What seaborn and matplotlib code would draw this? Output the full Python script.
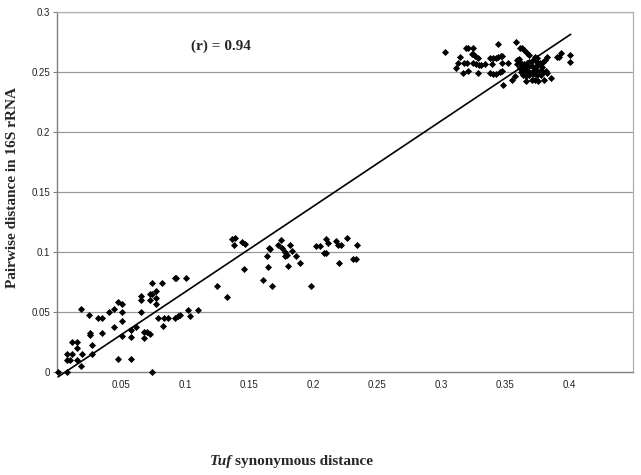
import matplotlib
matplotlib.use("Agg")
import matplotlib.pyplot as plt
import seaborn as sns
import pandas as pd
import numpy as np

# ---- data ----
low_x = [0.0005, 0.0076, 0.008, 0.010, 0.008, 0.0117, 0.0117, 0.0156, 0.0156, 0.0156,
         0.0193, 0.019, 0.0188, 0.025, 0.0255, 0.0255, 0.027, 0.027, 0.0318, 0.035,
         0.0354, 0.041, 0.0445, 0.0445, 0.0474, 0.0505, 0.051, 0.051, 0.0505, 0.0474,
         0.0578, 0.0578, 0.0578, 0.0615, 0.066, 0.066, 0.066, 0.068, 0.068, 0.0706,
         0.073, 0.073, 0.0745, 0.074, 0.073, 0.077, 0.0776, 0.077, 0.0745, 0.0818,
         0.079, 0.083, 0.0838, 0.087, 0.0922, 0.0932, 0.0922, 0.0948, 0.0961, 0.1005,
         0.102, 0.1036, 0.110]
low_y = [0.000, 0.000, 0.010, 0.010, 0.015, 0.015, 0.025, 0.025, 0.020, 0.010,
         0.015, 0.005, 0.0525, 0.0475, 0.0328, 0.031, 0.0225, 0.015, 0.045, 0.045,
         0.0325, 0.0497, 0.0525, 0.0378, 0.058, 0.057, 0.0497, 0.0425, 0.0297, 0.0108,
         0.0347, 0.029, 0.0108, 0.0378, 0.063, 0.060, 0.050, 0.0336, 0.0286, 0.0336,
         0.0314, 0.0647, 0.0647, 0.0745, 0.060, 0.0614, 0.0675, 0.057, 0.000, 0.074,
         0.0447, 0.0383, 0.0447, 0.0447, 0.0786, 0.0786, 0.0447, 0.047, 0.0475, 0.0786,
         0.0514, 0.047, 0.0514]

mid_x = [0.137, 0.139, 0.1385, 0.1448, 0.1466, 0.1458, 0.125, 0.1328, 0.1656, 0.1667,
         0.1643, 0.1646, 0.161, 0.1677, 0.1724, 0.175, 0.1755, 0.1781, 0.1781, 0.1797,
         0.1818, 0.1839, 0.1807, 0.1867, 0.190, 0.1982, 0.2026, 0.2055, 0.2083, 0.2099,
         0.2099, 0.212, 0.218, 0.2195, 0.2216, 0.220, 0.2263, 0.2315, 0.2334, 0.2344]
mid_y = [0.1108, 0.112, 0.1058, 0.1086, 0.107, 0.0858, 0.072, 0.0625, 0.1033, 0.1028,
         0.097, 0.0875, 0.0767, 0.072, 0.1056, 0.110, 0.1033, 0.0997, 0.0964, 0.0972,
         0.106, 0.1011, 0.088, 0.0964, 0.0905, 0.072, 0.1047, 0.105, 0.0994, 0.0994,
         0.1108, 0.1078, 0.109, 0.1056, 0.106, 0.0905, 0.112, 0.0944, 0.0944, 0.1056]

high_x = [0.3031, 0.3193, 0.3213, 0.3253, 0.3148, 0.3240, 0.3253, 0.3266, 0.3292, 0.3130,
          0.3180, 0.3200, 0.3247, 0.3271, 0.3297, 0.3315, 0.3341, 0.3117, 0.3213, 0.3169,
          0.3292, 0.3383, 0.3409, 0.3427, 0.3448, 0.3466, 0.3479, 0.3448, 0.3396, 0.3474,
          0.3383, 0.3409, 0.3427, 0.3461, 0.3474, 0.3526, 0.3904, 0.3924, 0.3940, 0.4008,
          0.4008,
          0.3583, 0.3617, 0.3630, 0.3649, 0.3675, 0.3690, 0.3591, 0.3612, 0.3735, 0.3748,
          0.3591, 0.3622, 0.3649, 0.3669, 0.3690, 0.3711, 0.3735, 0.3753, 0.3773, 0.3799,
          0.3815, 0.3831, 0.3617, 0.3643, 0.3664, 0.3682, 0.3708, 0.3735, 0.3760, 0.3786,
          0.3625, 0.3649, 0.3669, 0.3690, 0.3716, 0.3742, 0.3773, 0.3799, 0.3820, 0.3638,
          0.3664, 0.3690, 0.3721, 0.3753, 0.3779, 0.3831, 0.3664, 0.3711, 0.3735, 0.3760,
          0.3805, 0.3859, 0.3552, 0.3578, 0.3487]
high_y = [0.2664, 0.2697, 0.2697, 0.2697, 0.2622, 0.2647, 0.2647, 0.2636, 0.2614, 0.2572,
          0.2572, 0.2572, 0.2572, 0.2567, 0.2558, 0.2558, 0.2567, 0.2531, 0.2511, 0.2489,
          0.2489, 0.2614, 0.2614, 0.2619, 0.2628, 0.2636, 0.2636, 0.2733, 0.2567, 0.2572,
          0.2489, 0.2483, 0.2483, 0.2500, 0.2506, 0.2572, 0.2622, 0.2622, 0.2660, 0.2644,
          0.2581,
          0.2753, 0.2703, 0.2697, 0.2683, 0.2656, 0.2642, 0.2600, 0.2611, 0.2622, 0.2614,
          0.2564, 0.2572, 0.2567, 0.2578, 0.2586, 0.2594, 0.2600, 0.2586, 0.2572, 0.2586,
          0.2600, 0.2628, 0.2531, 0.2544, 0.2531, 0.2544, 0.2550, 0.2544, 0.2558, 0.2544,
          0.2503, 0.2511, 0.2489, 0.2503, 0.2511, 0.2517, 0.2511, 0.2503, 0.2511, 0.2475,
          0.2467, 0.2475, 0.2483, 0.2475, 0.2475, 0.2494, 0.2428, 0.2433, 0.2433, 0.2425,
          0.2433, 0.2447, 0.2433, 0.2467, 0.2394]

fit_x = [0.0008, 0.4013]
fit_y = [-0.0041, 0.2814]

x_ticks = [0.05, 0.1, 0.15, 0.2, 0.25, 0.3, 0.35, 0.4]
x_tick_labels = ["0.05", "0.1", "0.15", "0.2", "0.25", "0.3", "0.35", "0.4"]
y_ticks = [0, 0.05, 0.1, 0.15, 0.2, 0.25, 0.3]
y_tick_labels = ["0", "0.05", "0.1", "0.15", "0.2", "0.25", "0.3"]

df = pd.DataFrame({"x": low_x + mid_x + high_x, "y": low_y + mid_y + high_y})
fit_df = pd.DataFrame({"x": fit_x, "y": fit_y})

# ---- figure ----
sns.set_theme(style="white")
plt.rcParams["font.family"] = ["Liberation Sans", "DejaVu Sans"]

fig = plt.figure(figsize=(6.41, 4.75), dpi=100)
ax = fig.add_axes([57 / 641, 1 - 372 / 475, 576 / 641, 360 / 475])

ax.set_xlim(0, 0.45)
ax.set_ylim(0, 0.3)

for yv in y_ticks[1:]:
    ax.axhline(yv, color="#9a9a9a", lw=0.9, zorder=0)

sns.lineplot(data=fit_df, x="x", y="y", ax=ax, color="black", lw=1.2,
             clip_on=False, zorder=3)
sns.scatterplot(data=df, x="x", y="y", ax=ax, marker="D", s=13, color="black",
                linewidth=0, clip_on=False, zorder=4)

ax.set_xticks(x_ticks)
ax.set_xticklabels(x_tick_labels)
ax.set_yticks(y_ticks)
ax.set_yticklabels(y_tick_labels)
ax.tick_params(axis="y", which="major", labelsize=7, labelcolor="#222222",
               color="#808080", length=3, width=0.8, direction="out", pad=2,
               left=True)
ax.tick_params(axis="x", which="major", labelsize=7, labelcolor="#222222",
               length=0, pad=6, bottom=True)

for side in ["left", "bottom"]:
    ax.spines[side].set_color("#808080")
    ax.spines[side].set_linewidth(1.0)
for side in ["top", "right"]:
    ax.spines[side].set_color("#b0b0b0")
    ax.spines[side].set_linewidth(0.9)

ax.set_xlabel("")
ax.set_ylabel("")

serif = ["Liberation Serif", "DejaVu Serif"]
fig.text(13 / 641, 1 - 188 / 475, "Pairwise distance in 16S rRNA", rotation=90,
         ha="center", va="center", fontsize=11, fontweight="bold", family=serif)
fig.text(232 / 641, 1 - 462 / 475, "Tuf", ha="right", va="center", fontsize=11,
         fontweight="bold", fontstyle="italic", family=serif)
fig.text(235 / 641, 1 - 462 / 475, "synonymous distance", ha="left", va="center",
         fontsize=11, fontweight="bold", family=serif)
fig.text(221 / 641, 1 - 46 / 475, "(r) = 0.94", ha="center", va="center",
         fontsize=11, fontweight="bold", family=serif)

fig.savefig("out.png", dpi=100, facecolor="white")
